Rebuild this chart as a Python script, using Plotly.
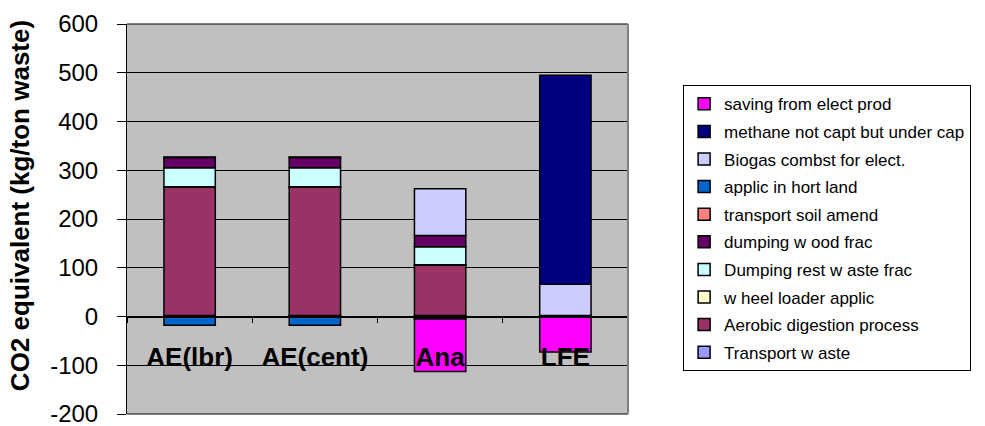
import plotly.graph_objects as go

# Treatment scenarios
categories = ["AE(lbr)", "AE(cent)", "Ana", "LFE"]

# Emission contributions per scenario, kg CO2-eq per ton waste (None = not applicable)
transport_waste = [2, 2, 2, 2]
aerobic_digestion = [263, 263, 103, None]
wheel_loader = [1, 1, 1, None]
dumping_rest = [39, 39, 37, None]
dumping_wood = [21, 21, 23, None]
transport_soil = [1, 1, None, None]
applic_hort_land = [-18, -18, -5, None]
biogas_combust = [None, None, 96, 64]
methane_uncaptured = [None, None, None, 429]
saving_elect = [None, None, -108, -73]

# Stacking order (bottom to top); the legend lists them top-down in reverse
series = [
    ("Transport w aste", transport_waste, "#9999FF"),
    ("Aerobic digestion process", aerobic_digestion, "#993366"),
    ("w heel loader applic", wheel_loader, "#FFFFCC"),
    ("Dumping rest w aste frac", dumping_rest, "#CCFFFF"),
    ("dumping w ood frac", dumping_wood, "#660066"),
    ("transport soil amend", transport_soil, "#FF8080"),
    ("applic in hort land", applic_hort_land, "#0066CC"),
    ("Biogas combst for elect.", biogas_combust, "#CCCCFF"),
    ("methane not capt but under cap", methane_uncaptured, "#000080"),
    ("saving from elect prod", saving_elect, "#FF00FF"),
]

y_ticks = [600, 500, 400, 300, 200, 100, 0, -100, -200]
FONT = "Arial, Liberation Sans, sans-serif"

fig = go.Figure()
n = len(series)
for i, (name, vals, color) in enumerate(series):
    fig.add_trace(go.Bar(
        x=categories, y=vals, name=name, legendgroup=name,
        legendrank=n - i,
        marker=dict(color=color, line=dict(color="black", width=1.5)),
        width=0.41,
    ))

fig.update_layout(
    width=985, height=426,
    margin=dict(l=127, r=357, t=24, b=12, autoexpand=False),
    paper_bgcolor="white",
    plot_bgcolor="#C0C0C0",
    barmode="relative",
    font=dict(family=FONT, color="black"),
    showlegend=True,
    legend=dict(
        x=1.11, y=0.843, xanchor="left", yanchor="top",
        traceorder="grouped", tracegroupgap=2.5,
        bgcolor="white", bordercolor="black", borderwidth=1,
        font=dict(size=17, family=FONT),
    ),
    xaxis=dict(
        type="category", anchor="free", position=0.25, side="bottom",
        automargin=False,
        showline=True, linecolor="black", linewidth=1.5,
        showgrid=False, zeroline=False,
        tickson="boundaries", ticks="outside", ticklen=6, tickcolor="black",
        ticklabelstandoff=18,
        tickfont=dict(size=26, family=FONT, weight="bold"),
    ),
    yaxis=dict(
        range=[-200, 600], tickvals=y_ticks, ticktext=[str(v) for v in y_ticks],
        automargin=False,
        showline=True, linecolor="black", linewidth=1,
        showgrid=True, gridcolor="black", gridwidth=1,
        zeroline=False,
        ticks="outside", ticklen=9, tickcolor="black",
        ticklabelstandoff=14, ticklabeloverflow="allow",
        tickfont=dict(size=24, family=FONT),
    ),
    annotations=[dict(
        text="<b>CO2 equivalent (kg/ton waste)</b>",
        xref="paper", yref="paper", x=-0.212, y=0.535,
        xanchor="center", yanchor="middle", textangle=-90, showarrow=False,
        font=dict(size=26, family=FONT),
    )],
    shapes=[
        dict(type="line", xref="paper", yref="paper", x0=0, x1=1, y0=1, y1=1,
             line=dict(color="black", width=1), layer="below"),
        dict(type="line", xref="paper", yref="paper", x0=0, x1=1, y0=0, y1=0,
             line=dict(color="black", width=1), layer="below"),
        dict(type="line", xref="paper", yref="paper", x0=1, x1=1, y0=0, y1=1,
             line=dict(color="#808080", width=2)),
    ],
)

fig.write_html("out.html")
